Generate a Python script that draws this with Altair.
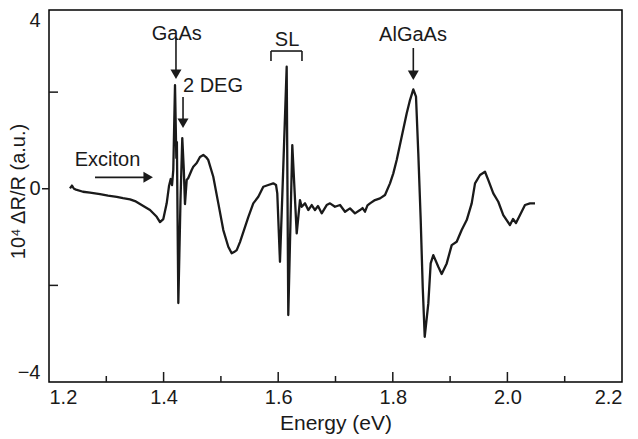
import altair as alt
import pandas as pd

# ---- spectrum (energy in eV, 10^4 dR/R in a.u.) ----
energy = [
    1.2366, 1.2401, 1.2436, 1.2471, 1.2593, 1.2716, 1.2890, 1.3030, 1.3182, 1.3291,
    1.3414, 1.3501, 1.3588, 1.3675, 1.3763, 1.3815, 1.3880, 1.3937, 1.3995, 1.4054,
    1.4094, 1.4124, 1.4147, 1.4169, 1.4199, 1.4222, 1.4232, 1.4257, 1.4295, 1.4326,
    1.4353, 1.4373, 1.4403, 1.4431, 1.4490, 1.4518, 1.4578, 1.4635, 1.4693, 1.4740,
    1.4780, 1.4867, 1.4955, 1.5042, 1.5129, 1.5188, 1.5229, 1.5276, 1.5333, 1.5391,
    1.5478, 1.5565, 1.5653, 1.5740, 1.5827, 1.5914, 1.5962, 1.5984, 1.6031, 1.6079,
    1.6148, 1.6176, 1.6246, 1.6323, 1.6380, 1.6410, 1.6468, 1.6525, 1.6585, 1.6642,
    1.6695, 1.6759, 1.6846, 1.6904, 1.6991, 1.7079, 1.7166, 1.7253, 1.7340, 1.7428,
    1.7472, 1.7515, 1.7558, 1.7602, 1.7689, 1.7777, 1.7864, 1.7951, 1.8009, 1.8068,
    1.8155, 1.8243, 1.8300, 1.8358, 1.8405, 1.8445, 1.8487, 1.8522, 1.8557, 1.8620,
    1.8661, 1.8707, 1.8794, 1.8853, 1.8941, 1.9028, 1.9115, 1.9202, 1.9290, 1.9377,
    1.9435, 1.9522, 1.9609, 1.9667, 1.9754, 1.9841, 1.9928, 2.0045, 2.0098, 2.0150,
    2.0220, 2.0307, 2.0394, 2.0482,
]
signal = [
    0.008, 0.066, 0.000, -0.017, -0.062, -0.079, -0.110, -0.141, -0.166, -0.193,
    -0.219, -0.255, -0.317, -0.379, -0.441, -0.503, -0.580, -0.689, -0.627, -0.302,
    0.056, 0.201, 0.077, 0.387, 2.147, 0.636, 0.967, -2.366, -0.234, 1.050,
    0.387, -0.317, 0.180, 0.222, 0.387, 0.455, 0.532, 0.656, 0.698, 0.656,
    0.594, 0.248, -0.302, -0.855, -1.201, -1.337, -1.311, -1.269, -1.104, -0.896,
    -0.586, -0.302, -0.166, 0.041, 0.077, 0.112, 0.077, -0.095, -1.511, 0.112,
    2.526, -2.615, 0.905, -0.923, -0.234, -0.373, -0.302, -0.441, -0.337, -0.441,
    -0.358, -0.509, -0.337, -0.302, -0.373, -0.337, -0.476, -0.406, -0.509, -0.441,
    -0.400, -0.475, -0.345, -0.302, -0.234, -0.199, -0.130, 0.112, 0.319, 0.594,
    1.077, 1.561, 1.836, 2.058, 1.905, 0.733, -0.648, -2.029, -3.064, -2.373,
    -1.545, -1.373, -1.615, -1.766, -1.545, -1.166, -1.097, -0.855, -0.648, -0.302,
    0.112, 0.284, 0.352, 0.180, -0.095, -0.269, -0.545, -0.752, -0.627, -0.710,
    -0.545, -0.337, -0.302, -0.302,
]

# ---- axis ticks ----
x_label_values = [1.2, 1.4, 1.6, 1.8, 2.0, 2.2]
x_major_ticks = [1.4, 1.6, 1.8, 2.0]
x_minor_ticks = [1.3, 1.5, 1.7, 1.9, 2.1]
y_inner_ticks = [-2, 2]
y_outer_ticks = [0]
y_domain = [-4, 3.7]
y_label_values = [-4, 0, 3.7]

# ---- annotations ----
ann_text = ["GaAs", "2 DEG", "SL", "Exciton", "AlGaAs"]
ann_text_e = [1.4229, 1.4862, 1.6154, 1.3021, 1.8353]
ann_text_v = [3.193, 2.126, 3.079, 0.594, 3.182]

# line segments: arrow shafts and the SL bracket
seg_x1 = [1.4216, 1.4339, 1.8358, 1.2803, 1.5874, 1.5874, 1.6415]
seg_x2 = [1.4216, 1.4339, 1.8358, 1.3731, 1.6415, 1.5874, 1.6415]
seg_y1 = [3.137, 1.899, 2.913, 0.236, 2.851, 2.851, 2.851]
seg_y2 = [2.371, 1.356, 2.350, 0.236, 2.851, 2.644, 2.644]

# arrow heads
head_e = [1.4216, 1.4339, 1.8358, 1.3731]
head_v = [2.371, 1.356, 2.350, 0.236]
head_shape = ["triangle-down", "triangle-down", "triangle-down", "triangle-right"]

FONT = "Liberation Sans"
INK = "#1a1a1a"
W, H = 573, 372

xs = alt.Scale(domain=[1.2, 2.2], nice=False, zero=False)
ys = alt.Scale(domain=y_domain, nice=False, zero=False)

x_axis = alt.Axis(
    values=x_label_values,
    format=".1f",
    ticks=False,
    domain=False,
    grid=False,
    labelFont=FONT,
    labelFontSize=20,
    labelColor=INK,
    labelPadding=5,
    title="Energy (eV)",
    titleFont=FONT,
    titleFontSize=21,
    titleFontWeight="normal",
    titleColor=INK,
    titleBaseline="middle",
    titleY=41,
)
y_axis = alt.Axis(
    values=y_label_values,
    labelExpr="datum.value > 3 ? '4' : (datum.value < -3 ? '\u22124' : '0')",
    labelFlush=True,
    ticks=False,
    domain=False,
    grid=False,
    labelFont=FONT,
    labelFontSize=20,
    labelColor=INK,
    labelPadding=9,
    title="10\u2074 \u0394R/R (a.u.)",
    titleFont=FONT,
    titleFontSize=20,
    titleFontWeight="normal",
    titleColor=INK,
    titleBaseline="middle",
    titleX=-31,
    titleY=181,
)

spec = pd.DataFrame({"energy": energy, "signal": signal, "idx": list(range(len(energy)))})

line = alt.Chart(spec).mark_line(color=INK, strokeWidth=2.3, strokeJoin="round").encode(
    x=alt.X("energy:Q", scale=xs, axis=x_axis),
    y=alt.Y("signal:Q", scale=ys, axis=y_axis),
    order="idx:Q",
)

major = alt.Chart(pd.DataFrame({"energy": x_major_ticks})).mark_rule(color=INK, strokeWidth=1.5).encode(
    x=alt.X("energy:Q", scale=xs, axis=x_axis), y=alt.value(H), y2=alt.value(H - 10)
)
minor = alt.Chart(pd.DataFrame({"energy": x_minor_ticks})).mark_rule(color=INK, strokeWidth=1.5).encode(
    x=alt.X("energy:Q", scale=xs, axis=x_axis), y=alt.value(H), y2=alt.value(H - 6)
)
yin = alt.Chart(pd.DataFrame({"signal": y_inner_ticks})).mark_rule(color=INK, strokeWidth=1.5).encode(
    y=alt.Y("signal:Q", scale=ys, axis=y_axis), x=alt.value(0), x2=alt.value(9)
)
yout = alt.Chart(pd.DataFrame({"signal": y_outer_ticks})).mark_rule(color=INK, strokeWidth=1.5).encode(
    y=alt.Y("signal:Q", scale=ys, axis=y_axis), x=alt.value(-7), x2=alt.value(0)
)

segs = alt.Chart(
    pd.DataFrame({"energy": seg_x1, "e2": seg_x2, "signal": seg_y1, "s2": seg_y2})
).mark_rule(color=INK, strokeWidth=1.6).encode(
    x=alt.X("energy:Q", scale=xs, axis=x_axis),
    x2="e2:Q",
    y=alt.Y("signal:Q", scale=ys, axis=y_axis),
    y2="s2:Q",
)

heads = alt.Chart(pd.DataFrame({"energy": head_e, "signal": head_v, "s": head_shape})).mark_point(
    filled=True, size=121, color=INK, opacity=1
).encode(
    x=alt.X("energy:Q", scale=xs, axis=x_axis),
    y=alt.Y("signal:Q", scale=ys, axis=y_axis),
    shape=alt.Shape("s:N", scale=None, legend=None),
)

texts = alt.Chart(pd.DataFrame({"t": ann_text, "energy": ann_text_e, "signal": ann_text_v})).mark_text(
    font=FONT, fontSize=20, color=INK, align="center", baseline="middle"
).encode(
    x=alt.X("energy:Q", scale=xs, axis=x_axis),
    y=alt.Y("signal:Q", scale=ys, axis=y_axis),
    text="t:N",
)

chart = (
    alt.layer(line, major, minor, yin, yout, segs, heads, texts)
    .properties(
        width=W,
        height=H,
        autosize="none",
        padding={"left": 49, "top": 10, "right": 16, "bottom": 57},
        background="white",
    )
    .configure_view(stroke="black", strokeWidth=1.5)
)

chart.save("out.html", embed_options={"renderer": "svg", "actions": False})
